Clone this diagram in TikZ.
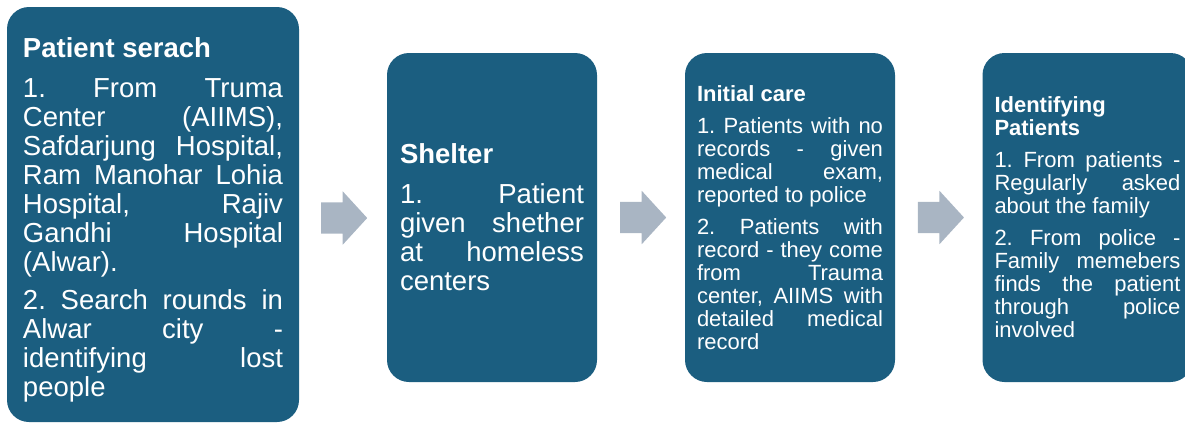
\documentclass[tikz,border=0pt]{standalone}
\usepackage{fontspec}
\setmainfont{Liberation Sans}
\usepackage{xcolor}
\usetikzlibrary{calc,shapes.arrows}
\definecolor{cardblue}{HTML}{1B5E80}
\definecolor{arrowgray}{HTML}{A9B5C3}
\tolerance=10000
\hbadness=10000
\hyphenpenalty=10000
\frenchspacing

\begin{document}
\begin{tikzpicture}[x=1pt,y=1pt,
	card/.style={fill=cardblue, rounded corners=22pt, text=white, align=justify, inner sep=0pt},
	bigcard/.style={card, font=\fontsize{27.5}{29}\selectfont},
	smallcard/.style={card, font=\fontsize{22}{23}\selectfont},
	flowarrow/.style={single arrow, fill=arrowgray, inner xsep=0pt, inner ysep=15.5pt, minimum height=46pt, single arrow head extend=11pt, single arrow tip angle=95, anchor=tail}]
			\useasboundingbox (0,0) rectangle (1185,-424);
			\clip (0,0) rectangle (1185,-424);
			\node[bigcard, minimum width=292pt, minimum height=415pt, text width=260pt] (patient) at (153,-214.5)
				{\textbf{Patient serach}\par\vspace{11pt}
				1. From Truma\linebreak Center (AIIMS),\linebreak Safdarjung Hospital,\linebreak Ram Manohar Lohia\linebreak Hospital, Rajiv\linebreak Gandhi Hospital\linebreak (Alwar).\par\vspace{9pt}
				2. Search rounds in\linebreak Alwar city -\linebreak identifying lost\linebreak people\par\kern-10pt};
			\node[bigcard, minimum width=210pt, minimum height=329pt, text width=184pt] (shelter) at (492,-217.5)
				{\textbf{Shelter}\par\vspace{11pt}
				1. Patient\linebreak given shether\linebreak at homeless\linebreak centers};
			\node[smallcard, minimum width=210pt, minimum height=329pt, text width=186pt] (care) at (790,-217.5)
				{\textbf{Initial care}\par\vspace{9pt}
				1. Patients with no\linebreak records - given\linebreak medical exam,\linebreak reported to police\par\vspace{9pt}
				2. Patients with\linebreak record - they come\linebreak from Trauma\linebreak center, AIIMS with\linebreak detailed medical\linebreak record};
			\node[smallcard, minimum width=210pt, minimum height=329pt, text width=186pt] (identify) at (1087.5,-217.5)
				{\textbf{Identifying\\Patients}\par\vspace{9pt}
				1. From patients -\linebreak Regularly asked\linebreak about the family\par\vspace{9pt}
				2. From police -\linebreak Family memebers\linebreak finds the patient\linebreak through police\linebreak involved};
			% arrows between the cards
			\node[flowarrow] (a1) at ($(patient.east)!0.5!(shelter.west)+(-22,-2)$) {};
			\node[flowarrow] (a2) at ($(shelter.east)!0.5!(care.west)+(-21,0)$) {};
			\node[flowarrow] (a3) at ($(care.east)!0.5!(identify.west)+(-21,0)$) {};
			\end{tikzpicture}
\end{document}
